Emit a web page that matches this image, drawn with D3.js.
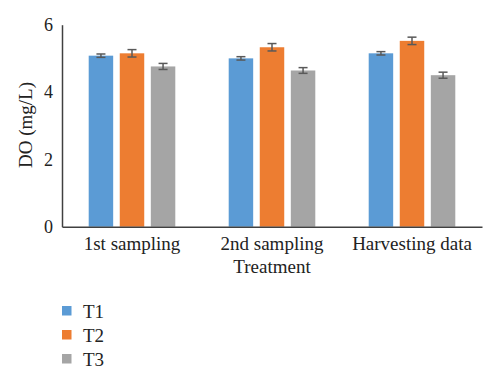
<!DOCTYPE html>
<html><head><meta charset="utf-8">
<script src="https://cdn.jsdelivr.net/npm/d3@7"></script>
<style>body{margin:0;background:#fff}svg{display:block}text{font-family:"Liberation Serif","Times New Roman",serif;fill:#222}</style>
</head><body><svg id="c" width="500" height="382"></svg>
<script>
const categories = ["1st sampling", "2nd sampling", "Harvesting data"];
const seriesNames = ["T1", "T2", "T3"];
const T1 = [5.08, 5.00, 5.15];
const T2 = [5.15, 5.33, 5.52];
const T3 = [4.76, 4.64, 4.50];
const T1err = [0.05, 0.05, 0.05];
const T2err = [0.11, 0.11, 0.11];
const T3err = [0.09, 0.085, 0.09];
const yTicks = [0, 2, 4, 6];
const colors = ["#5B9BD5", "#ED7D31", "#A5A5A5"];

const values = [T1, T2, T3], errs = [T1err, T2err, T3err];
const svg = d3.select("#c");
const mLeft = 62, mRight = 482, mTop = 24.7, mBottom = 226.7;

const x0 = d3.scaleBand().domain(categories).range([mLeft, mRight]).padding(0);
const x1 = d3.scaleBand().domain(seriesNames).range([26.7, 113.3]).paddingInner(0.212).paddingOuter(0);
const y = d3.scaleLinear().domain([0, 6]).range([mBottom, mTop]);

const g = svg.append("g");
categories.forEach((c, i) => {
  seriesNames.forEach((s, j) => {
    const v = values[j][i], e = errs[j][i];
    const bx = x0(c) + x1(s);
    g.append("rect").attr("x", bx).attr("y", y(v)).attr("width", x1.bandwidth())
      .attr("height", y(0) - y(v)).attr("fill", colors[j]);
    const cx = bx + x1.bandwidth() / 2;
    const eg = g.append("g").attr("stroke", "#595959").attr("stroke-width", 1.5);
    eg.append("line").attr("x1", cx).attr("x2", cx).attr("y1", y(v + e)).attr("y2", y(v - e));
    eg.append("line").attr("x1", cx - 4.5).attr("x2", cx + 4.5).attr("y1", y(v + e)).attr("y2", y(v + e));
    eg.append("line").attr("x1", cx - 4.5).attr("x2", cx + 4.5).attr("y1", y(v - e)).attr("y2", y(v - e));
  });
});

// axes
const yAxis = svg.append("g").attr("transform", `translate(${mLeft},0)`)
  .call(d3.axisLeft(y).tickValues(yTicks).tickSize(0).tickPadding(9).tickFormat(d3.format("d")));
yAxis.select(".domain").attr("stroke", "#404040").attr("stroke-width", 1.5);
yAxis.selectAll("text").attr("font-size", 18).style("font-family", '"Liberation Serif",serif').attr("fill", "#222");

const xAxis = svg.append("g").attr("transform", `translate(0,${mBottom})`)
  .call(d3.axisBottom(x0).tickSize(0).tickPadding(10));
xAxis.select(".domain").attr("stroke", "#404040").attr("stroke-width", 1.5);
xAxis.selectAll("text").attr("font-size", 19).style("font-family", '"Liberation Serif",serif').attr("fill", "#222");

svg.append("text").attr("x", (mLeft + mRight) / 2).attr("y", 273).attr("text-anchor", "middle")
  .attr("font-size", 19).text("Treatment");
svg.append("text").attr("transform", `translate(32,125) rotate(-90)`).attr("text-anchor", "middle")
  .attr("font-size", 19).text("DO (mg/L)");

// legend
seriesNames.forEach((s, j) => {
  const ly = 311 + j * 24;
  svg.append("rect").attr("x", 62).attr("y", ly - 5).attr("width", 9.5).attr("height", 9.5).attr("fill", colors[j]);
  svg.append("text").attr("x", 83).attr("y", ly + 6.5).attr("font-size", 19).text(s);
});
</script></body></html>
